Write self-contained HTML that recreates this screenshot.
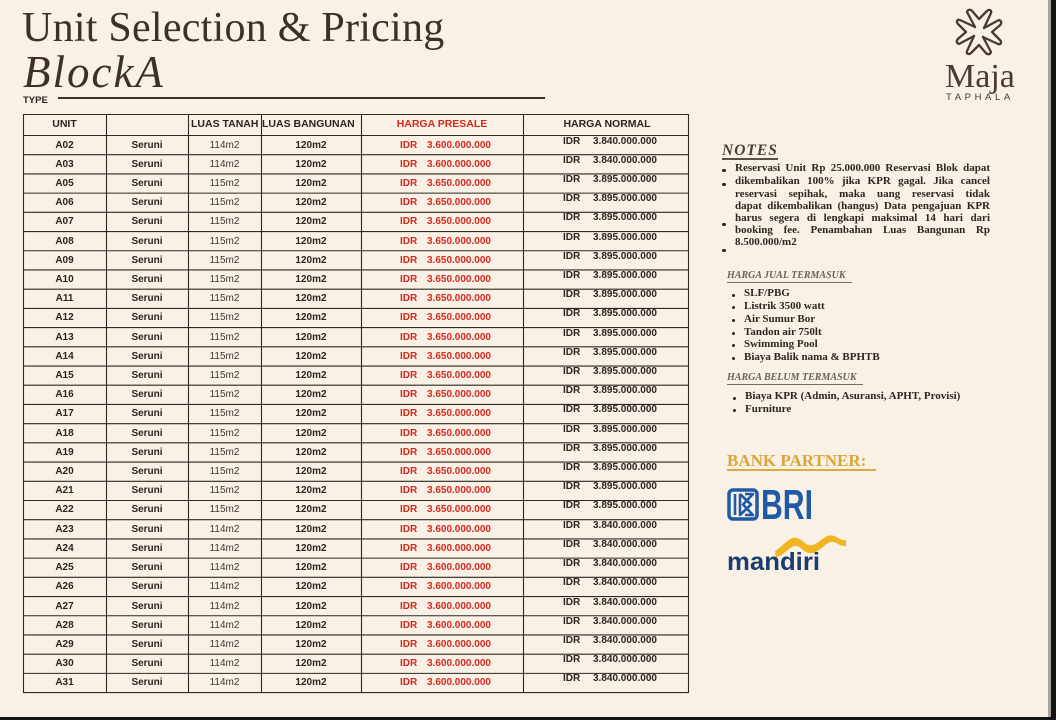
<!DOCTYPE html>
<html><head><meta charset="utf-8">
<style>
*{margin:0;padding:0;box-sizing:border-box}
html,body{width:1056px;height:720px;overflow:hidden;background:#f9f1e6}
body{position:relative;font-family:"Liberation Sans",sans-serif;color:#2a2522}
.a{position:absolute;white-space:nowrap}
.r{position:absolute;left:0;width:700px;height:19.21px;line-height:19.21px}
.r span{position:absolute;top:0;font-weight:bold;font-size:10px;color:#2a2522}
.c1{left:23px;width:83px;text-align:center}
.c2{left:106px;width:82px;text-align:center}
.c3{left:188px;width:73px;text-align:center;font-weight:normal!important;color:#3d3733!important}
.c4{left:261px;width:100px;text-align:center}
.c5{left:400px;color:#d6281e!important}
.c6{left:427px;color:#d6281e!important}
.r .c7{left:563px;top:-4px}
.r .c8{left:593px;top:-4px}
.h{position:absolute;top:114px;height:21.5px;line-height:21.5px;font-weight:bold;font-size:10.5px;color:#2a2522}
.ser{font-family:"Liberation Serif",serif}
.nl{position:absolute;left:735px;width:255px;font-family:"Liberation Serif",serif;font-weight:bold;font-size:11px;line-height:12.25px;height:12.25px;text-align:justify;text-align-last:justify;color:#2d2622;white-space:nowrap}
.dot{position:absolute;width:3.6px;height:3.6px;border-radius:50%;background:#2d2622}
.li{position:absolute;font-family:"Liberation Serif",serif;font-weight:bold;font-size:11px;line-height:12.7px;color:#2d2622;white-space:nowrap}
.hd{position:absolute;font-family:"Liberation Serif",serif;font-weight:bold;font-style:italic;font-size:10px;line-height:12px;color:#6e6058;white-space:nowrap}
</style></head><body>

<!-- Title -->
<div class="a ser" style="left:22px;top:7px;font-size:42px;line-height:42px;color:#3d3029;letter-spacing:0.25px">Unit Selection &amp; Pricing</div>
<div class="a ser" style="left:23px;top:50px;font-size:45px;line-height:45px;font-style:italic;color:#3d3029;letter-spacing:2px">BlockA</div>
<div class="a" style="left:23px;top:95.7px;font-size:9.5px;line-height:10px;font-weight:bold;color:#2a2522">TYPE</div>
<div class="a" style="left:58px;top:97px;width:487px;height:2px;background:#3d3029"></div>

<!-- Logo -->
<svg class="a" style="left:949px;top:5px" width="60" height="56" viewBox="-30 -27 60 56">
<g fill="none" stroke="#4a3a30" stroke-width="2.3" stroke-linejoin="round" stroke-linecap="round">
<path id="arm" d="M-4,-5 L-12,-20 C-11,-23 -8,-23 -6,-20 L0,-13 L8,-21 C10,-23 13,-22 12,-19 L5,-4"/>
<use href="#arm" transform="rotate(90)"/>
<use href="#arm" transform="rotate(180)"/>
<use href="#arm" transform="rotate(270)"/>
</g>
</svg>
<div class="a ser" style="left:945px;top:59.5px;font-size:34px;line-height:34px;color:#4a3a30">Maja</div>
<div class="a" style="left:946px;top:92.7px;font-size:9.5px;line-height:10px;letter-spacing:3.6px;color:#4a3a30">TAPHALA</div>

<!-- Table lines -->
<svg class="a" style="left:0;top:0" width="700" height="700">
<g stroke="#2d2825" stroke-width="1.1" fill="none">
<path d="M23.5 114V693M106.5 114V693M188.5 114V693M261.5 114V693M361.5 114V693M523.5 114V693M688.5 114V693"/>
<path d="M23 114.5H689M23 135.5H689M23 154.71H689M23 173.92H689M23 193.13H689M23 212.34H689M23 231.55H689M23 250.76H689M23 269.97H689M23 289.18H689M23 308.39H689M23 327.6H689M23 346.81H689M23 366.02H689M23 385.23H689M23 404.44H689M23 423.65H689M23 442.86H689M23 462.07H689M23 481.28H689M23 500.49H689M23 519.7H689M23 538.91H689M23 558.12H689M23 577.33H689M23 596.54H689M23 615.75H689M23 634.96H689M23 654.17H689M23 673.38H689M23 692.59H689"/>
</g>
</svg>

<!-- Header -->
<div class="h" style="left:23px;width:83px;text-align:center">UNIT</div>
<div class="h" style="left:191px">LUAS TANAH</div>
<div class="h" style="left:262px">LUAS BANGUNAN</div>
<div class="h" style="left:361px;width:162px;text-align:center;color:#d6281e">HARGA PRESALE</div>
<div class="h" style="left:524px;width:166px;text-align:center">HARGA NORMAL</div>

<!-- Rows -->
<div class="r" style="top:135.5px"><span class="c1">A02</span><span class="c2">Seruni</span><span class="c3">114m2</span><span class="c4">120m2</span><span class="c5">IDR</span><span class="c6">3.600.000.000</span><span class="c7">IDR</span><span class="c8">3.840.000.000</span></div>
<div class="r" style="top:154.71px"><span class="c1">A03</span><span class="c2">Seruni</span><span class="c3">114m2</span><span class="c4">120m2</span><span class="c5">IDR</span><span class="c6">3.600.000.000</span><span class="c7">IDR</span><span class="c8">3.840.000.000</span></div>
<div class="r" style="top:173.92px"><span class="c1">A05</span><span class="c2">Seruni</span><span class="c3">115m2</span><span class="c4">120m2</span><span class="c5">IDR</span><span class="c6">3.650.000.000</span><span class="c7">IDR</span><span class="c8">3.895.000.000</span></div>
<div class="r" style="top:193.13px"><span class="c1">A06</span><span class="c2">Seruni</span><span class="c3">115m2</span><span class="c4">120m2</span><span class="c5">IDR</span><span class="c6">3.650.000.000</span><span class="c7">IDR</span><span class="c8">3.895.000.000</span></div>
<div class="r" style="top:212.34px"><span class="c1">A07</span><span class="c2">Seruni</span><span class="c3">115m2</span><span class="c4">120m2</span><span class="c5">IDR</span><span class="c6">3.650.000.000</span><span class="c7">IDR</span><span class="c8">3.895.000.000</span></div>
<div class="r" style="top:231.55px"><span class="c1">A08</span><span class="c2">Seruni</span><span class="c3">115m2</span><span class="c4">120m2</span><span class="c5">IDR</span><span class="c6">3.650.000.000</span><span class="c7">IDR</span><span class="c8">3.895.000.000</span></div>
<div class="r" style="top:250.76px"><span class="c1">A09</span><span class="c2">Seruni</span><span class="c3">115m2</span><span class="c4">120m2</span><span class="c5">IDR</span><span class="c6">3.650.000.000</span><span class="c7">IDR</span><span class="c8">3.895.000.000</span></div>
<div class="r" style="top:269.97px"><span class="c1">A10</span><span class="c2">Seruni</span><span class="c3">115m2</span><span class="c4">120m2</span><span class="c5">IDR</span><span class="c6">3.650.000.000</span><span class="c7">IDR</span><span class="c8">3.895.000.000</span></div>
<div class="r" style="top:289.18px"><span class="c1">A11</span><span class="c2">Seruni</span><span class="c3">115m2</span><span class="c4">120m2</span><span class="c5">IDR</span><span class="c6">3.650.000.000</span><span class="c7">IDR</span><span class="c8">3.895.000.000</span></div>
<div class="r" style="top:308.39px"><span class="c1">A12</span><span class="c2">Seruni</span><span class="c3">115m2</span><span class="c4">120m2</span><span class="c5">IDR</span><span class="c6">3.650.000.000</span><span class="c7">IDR</span><span class="c8">3.895.000.000</span></div>
<div class="r" style="top:327.6px"><span class="c1">A13</span><span class="c2">Seruni</span><span class="c3">115m2</span><span class="c4">120m2</span><span class="c5">IDR</span><span class="c6">3.650.000.000</span><span class="c7">IDR</span><span class="c8">3.895.000.000</span></div>
<div class="r" style="top:346.81px"><span class="c1">A14</span><span class="c2">Seruni</span><span class="c3">115m2</span><span class="c4">120m2</span><span class="c5">IDR</span><span class="c6">3.650.000.000</span><span class="c7">IDR</span><span class="c8">3.895.000.000</span></div>
<div class="r" style="top:366.02px"><span class="c1">A15</span><span class="c2">Seruni</span><span class="c3">115m2</span><span class="c4">120m2</span><span class="c5">IDR</span><span class="c6">3.650.000.000</span><span class="c7">IDR</span><span class="c8">3.895.000.000</span></div>
<div class="r" style="top:385.23px"><span class="c1">A16</span><span class="c2">Seruni</span><span class="c3">115m2</span><span class="c4">120m2</span><span class="c5">IDR</span><span class="c6">3.650.000.000</span><span class="c7">IDR</span><span class="c8">3.895.000.000</span></div>
<div class="r" style="top:404.44px"><span class="c1">A17</span><span class="c2">Seruni</span><span class="c3">115m2</span><span class="c4">120m2</span><span class="c5">IDR</span><span class="c6">3.650.000.000</span><span class="c7">IDR</span><span class="c8">3.895.000.000</span></div>
<div class="r" style="top:423.65px"><span class="c1">A18</span><span class="c2">Seruni</span><span class="c3">115m2</span><span class="c4">120m2</span><span class="c5">IDR</span><span class="c6">3.650.000.000</span><span class="c7">IDR</span><span class="c8">3.895.000.000</span></div>
<div class="r" style="top:442.86px"><span class="c1">A19</span><span class="c2">Seruni</span><span class="c3">115m2</span><span class="c4">120m2</span><span class="c5">IDR</span><span class="c6">3.650.000.000</span><span class="c7">IDR</span><span class="c8">3.895.000.000</span></div>
<div class="r" style="top:462.07px"><span class="c1">A20</span><span class="c2">Seruni</span><span class="c3">115m2</span><span class="c4">120m2</span><span class="c5">IDR</span><span class="c6">3.650.000.000</span><span class="c7">IDR</span><span class="c8">3.895.000.000</span></div>
<div class="r" style="top:481.28px"><span class="c1">A21</span><span class="c2">Seruni</span><span class="c3">115m2</span><span class="c4">120m2</span><span class="c5">IDR</span><span class="c6">3.650.000.000</span><span class="c7">IDR</span><span class="c8">3.895.000.000</span></div>
<div class="r" style="top:500.49px"><span class="c1">A22</span><span class="c2">Seruni</span><span class="c3">115m2</span><span class="c4">120m2</span><span class="c5">IDR</span><span class="c6">3.650.000.000</span><span class="c7">IDR</span><span class="c8">3.895.000.000</span></div>
<div class="r" style="top:519.7px"><span class="c1">A23</span><span class="c2">Seruni</span><span class="c3">114m2</span><span class="c4">120m2</span><span class="c5">IDR</span><span class="c6">3.600.000.000</span><span class="c7">IDR</span><span class="c8">3.840.000.000</span></div>
<div class="r" style="top:538.91px"><span class="c1">A24</span><span class="c2">Seruni</span><span class="c3">114m2</span><span class="c4">120m2</span><span class="c5">IDR</span><span class="c6">3.600.000.000</span><span class="c7">IDR</span><span class="c8">3.840.000.000</span></div>
<div class="r" style="top:558.12px"><span class="c1">A25</span><span class="c2">Seruni</span><span class="c3">114m2</span><span class="c4">120m2</span><span class="c5">IDR</span><span class="c6">3.600.000.000</span><span class="c7">IDR</span><span class="c8">3.840.000.000</span></div>
<div class="r" style="top:577.33px"><span class="c1">A26</span><span class="c2">Seruni</span><span class="c3">114m2</span><span class="c4">120m2</span><span class="c5">IDR</span><span class="c6">3.600.000.000</span><span class="c7">IDR</span><span class="c8">3.840.000.000</span></div>
<div class="r" style="top:596.54px"><span class="c1">A27</span><span class="c2">Seruni</span><span class="c3">114m2</span><span class="c4">120m2</span><span class="c5">IDR</span><span class="c6">3.600.000.000</span><span class="c7">IDR</span><span class="c8">3.840.000.000</span></div>
<div class="r" style="top:615.75px"><span class="c1">A28</span><span class="c2">Seruni</span><span class="c3">114m2</span><span class="c4">120m2</span><span class="c5">IDR</span><span class="c6">3.600.000.000</span><span class="c7">IDR</span><span class="c8">3.840.000.000</span></div>
<div class="r" style="top:634.96px"><span class="c1">A29</span><span class="c2">Seruni</span><span class="c3">114m2</span><span class="c4">120m2</span><span class="c5">IDR</span><span class="c6">3.600.000.000</span><span class="c7">IDR</span><span class="c8">3.840.000.000</span></div>
<div class="r" style="top:654.17px"><span class="c1">A30</span><span class="c2">Seruni</span><span class="c3">114m2</span><span class="c4">120m2</span><span class="c5">IDR</span><span class="c6">3.600.000.000</span><span class="c7">IDR</span><span class="c8">3.840.000.000</span></div>
<div class="r" style="top:673.38px"><span class="c1">A31</span><span class="c2">Seruni</span><span class="c3">114m2</span><span class="c4">120m2</span><span class="c5">IDR</span><span class="c6">3.600.000.000</span><span class="c7">IDR</span><span class="c8">3.840.000.000</span></div>

<!-- Notes -->
<div class="a ser" style="left:722px;top:142.8px;font-size:15.5px;line-height:16px;font-weight:bold;font-style:italic;letter-spacing:1px;color:#4a3f38">NOTES</div>
<div class="a" style="left:722px;top:158px;width:56px;height:1.5px;background:#5a4f48"></div>
<div class="nl" style="top:161.7px">Reservasi Unit Rp 25.000.000 Reservasi Blok dapat</div>
<div class="nl" style="top:174.7px">dikembalikan 100% jika KPR gagal. Jika cancel</div>
<div class="nl" style="top:187.5px">reservasi sepihak, maka uang reservasi tidak</div>
<div class="nl" style="top:199.7px">dapat dikembalikan (hangus) Data pengajuan KPR</div>
<div class="nl" style="top:211.8px">harus segera di lengkapi maksimal 14 hari dari</div>
<div class="nl" style="top:223.8px">booking fee. Penambahan Luas Bangunan Rp</div>
<div class="nl" style="top:235.9px;text-align:left;text-align-last:left">8.500.000/m2</div>
<div class="dot" style="left:722px;top:168.5px"></div>
<div class="dot" style="left:722px;top:182.5px"></div>
<div class="dot" style="left:722px;top:222.5px"></div>
<div class="dot" style="left:722px;top:248.5px"></div>

<div class="hd" style="left:727px;top:269.6px">HARGA JUAL TERMASUK</div>
<div class="a" style="left:727px;top:281.5px;width:125px;height:1.2px;background:#7a6c64"></div>
<div class="li" style="left:744px;top:287.4px">SLF/PBG<br>Listrik 3500 watt<br>Air Sumur Bor<br>Tandon air 750lt<br>Swimming Pool<br>Biaya Balik nama &amp; BPHTB</div>
<div class="dot" style="left:732px;top:293.5px;width:3.2px;height:3.2px"></div>
<div class="dot" style="left:732px;top:306.2px;width:3.2px;height:3.2px"></div>
<div class="dot" style="left:732px;top:319px;width:3.2px;height:3.2px"></div>
<div class="dot" style="left:732px;top:331.6px;width:3.2px;height:3.2px"></div>
<div class="dot" style="left:732px;top:344.3px;width:3.2px;height:3.2px"></div>
<div class="dot" style="left:732px;top:357px;width:3.2px;height:3.2px"></div>

<div class="hd" style="left:727px;top:371.6px">HARGA BELUM TERMASUK</div>
<div class="a" style="left:727px;top:383.5px;width:136px;height:1.2px;background:#7a6c64"></div>
<div class="li" style="left:745px;top:390.4px">Biaya KPR (Admin, Asuransi, APHT, Provisi)<br>Furniture</div>
<div class="dot" style="left:733px;top:396.5px;width:3.2px;height:3.2px"></div>
<div class="dot" style="left:733px;top:409px;width:3.2px;height:3.2px"></div>

<!-- Bank partner -->
<div class="a ser" style="left:727px;top:452px;font-size:17px;line-height:18px;font-weight:bold;letter-spacing:0px;color:#d9a63a">BANK PARTNER:</div>
<div class="a" style="left:727px;top:469px;width:149px;height:2px;background:#dcaa40"></div>

<svg class="a" style="left:720px;top:480px" width="140" height="100" viewBox="720 480 140 100">
<rect x="729" y="490" width="28" height="29" rx="4" fill="none" stroke="#1e5aa5" stroke-width="3.5"/>
<path d="M735 494V515M740 494V515L751 504.5L740 494M745 494L753 494L743 504.5L753 515L745 515" fill="none" stroke="#1e5aa5" stroke-width="2.6" stroke-linejoin="round"/>
<text x="761" y="519" font-family="Liberation Sans, sans-serif" font-weight="bold" font-size="42" fill="#1e5aa5" textLength="52" lengthAdjust="spacingAndGlyphs">BRI</text>
<path d="M775 551C784 546 789 536 797 538C804 540 806 547 813 545C821 542 826 533 834 536C839 538 842 541 846 540L846 546C841 547 838 543 833 542C826 541 821 552 812 553C804 554 801 546 796 546C789 546 784 556 776 557Z" fill="#f2b522"/>
<text x="727" y="570" font-family="Liberation Sans, sans-serif" font-weight="bold" font-size="25" fill="#1c3c6e" textLength="93" lengthAdjust="spacingAndGlyphs">mandiri</text>
</svg>

<!-- Frame edges -->
<div class="a" style="left:1048px;top:0;width:3px;height:720px;background:#a9a49e"></div>
<div class="a" style="left:1051px;top:0;width:5px;height:720px;background:#141414"></div>
<div class="a" style="left:0;top:717px;width:1056px;height:3px;background:#141414"></div>
</body></html>
